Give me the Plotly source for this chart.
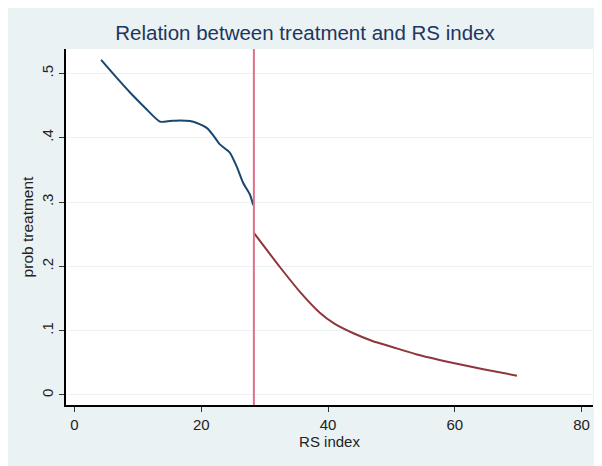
import plotly.graph_objects as go

# Data
cutoff = 28.3
left_x = [4.2, 6.5, 8.8, 11.2, 13.5, 15.1, 16.7, 18.2, 19.3, 20.9, 21.8, 22.9, 24.5, 25.6, 26.6, 27.7, 28.2]
left_y = [0.521, 0.495, 0.470, 0.446, 0.425, 0.426, 0.427, 0.426, 0.423, 0.415, 0.405, 0.390, 0.377, 0.355, 0.330, 0.311, 0.295]
right_x = [28.3, 32.4, 35.6, 38.7, 41.0, 44.0, 47.0, 50.0, 54.0, 59.2, 64.5, 69.8]
right_y = [0.252, 0.199, 0.160, 0.128, 0.111, 0.096, 0.084, 0.075, 0.063, 0.051, 0.040, 0.030]
x_ticks = [0, 20, 40, 60, 80]
y_ticks = [0, 0.1, 0.2, 0.3, 0.4, 0.5]
y_labels = ["0", ".1", ".2", ".3", ".4", ".5"]

fig = go.Figure()
fig.add_trace(go.Scatter(x=left_x, y=left_y, mode="lines",
                         line=dict(color="#1a476f", width=2, shape="spline", smoothing=0.6),
                         showlegend=False))
fig.add_trace(go.Scatter(x=right_x, y=right_y, mode="lines",
                         line=dict(color="#90353b", width=2, shape="spline", smoothing=0.6),
                         showlegend=False))
fig.add_shape(type="line", x0=cutoff, x1=cutoff, xref="x", y0=0, y1=1, yref="paper",
              line=dict(color="#e0708a", width=2))

# page has an 8px body margin, so the figure is 594x458 placed at (8, 8)
W, H = 594, 458
ml, mr, mt, mb = 58, 9, 41, 61

fig.update_layout(
    width=W, height=H,
    margin=dict(l=ml, r=mr, t=mt, b=mb, autoexpand=False),
    paper_bgcolor="#eaf2f3",
    plot_bgcolor="white",
    font=dict(family="Liberation Sans, Arial, sans-serif", color="#222222"),
    title=dict(text="Relation between treatment and RS index", x=0.5, xanchor="center",
               y=1 - 25 / H, yanchor="middle", automargin=False,
               font=dict(size=20.5, color="#1e3560")),
    xaxis=dict(range=[-1.34, 81.8], tickvals=x_ticks, ticks="outside", ticklen=5,
               tickcolor="#333333", showgrid=False, zeroline=False, automargin=False,
               showline=True, linecolor="black", linewidth=1.5,
               tickfont=dict(size=15, color="#222222"),
               title=dict(text="RS index", font=dict(size=15, color="#222222"), standoff=0)),
    yaxis=dict(range=[-0.0156, 0.538], tickvals=y_ticks, ticktext=y_labels, tickangle=-90,
               ticks="outside", ticklen=5, tickcolor="#333333", automargin=False,
               showgrid=True, gridcolor="#eaf2f3", gridwidth=1, zeroline=False,
               showline=True, linecolor="black", linewidth=1.5,
               tickfont=dict(size=15, color="#222222"),
               title=dict(text="prob treatment", font=dict(size=15.5, color="#222222"), standoff=2)),
)

fig.write_html("out.html")
